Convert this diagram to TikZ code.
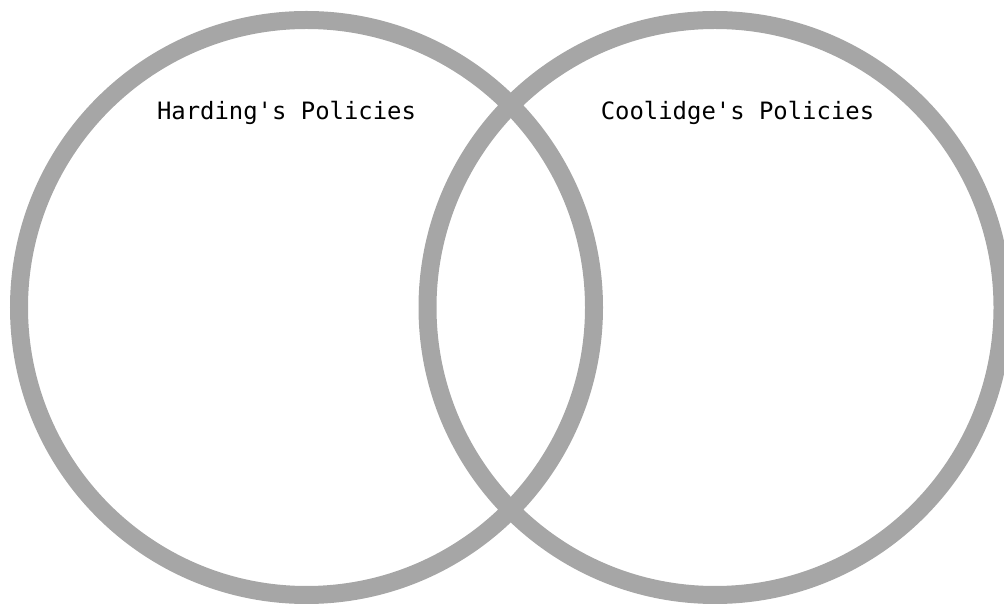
\documentclass[tikz,border=0pt]{standalone}
\usepackage{fontspec}
\setmonofont{DejaVu Sans Mono}
\usetikzlibrary{positioning}
\definecolor{ringgray}{HTML}{A6A6A6}
\tikzset{%
	ring/.style={draw=ringgray, circle, line width=18pt, minimum size=575pt, inner sep=0mm},
	title/.style={font=\ttfamily\fontsize{23.9}{28}\selectfont, inner sep=0mm}
}

\begin{document}
\begin{tikzpicture}[x=1pt, y=1pt]
	\useasboundingbox (0,0) rectangle (1004,605);
	%circles
	\node [ring] (H) at (306.5,297.5) {};
	\node [ring] (C) at (715,297.5) {};
	%titles
	\node [title] (Ht) at (286.5,492) {Harding's Policies};
	\node [title] (Ct) at (737.5,492) {Coolidge's Policies};
\end{tikzpicture}
\end{document}
